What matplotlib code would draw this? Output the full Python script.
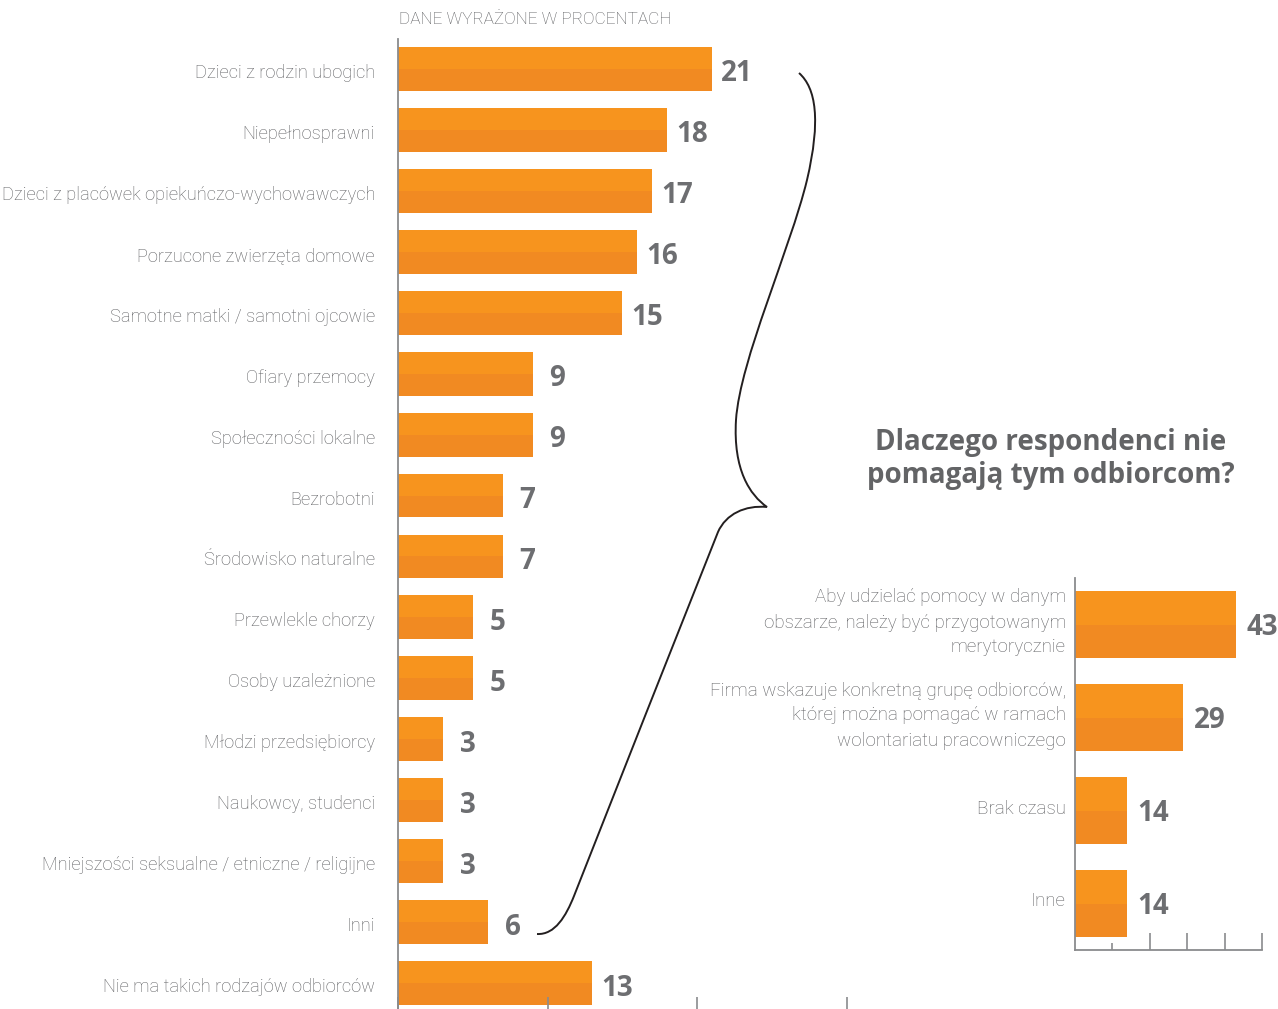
import matplotlib
matplotlib.use("Agg")
import matplotlib.pyplot as plt
from matplotlib.path import Path
from matplotlib.patches import PathPatch
from matplotlib.transforms import Affine2D

plt.rcParams['font.family'] = ['Roboto', 'DejaVu Sans']

# ---- data -------------------------------------------------------------
recipients = [
    "Dzieci z rodzin ubogich",
    "Niepełnosprawni",
    "Dzieci z placówek opiekuńczo-wychowawczych",
    "Porzucone zwierzęta domowe",
    "Samotne matki / samotni ojcowie",
    "Ofiary przemocy",
    "Społeczności lokalne",
    "Bezrobotni",
    "Środowisko naturalne",
    "Przewlekle chorzy",
    "Osoby uzależnione",
    "Młodzi przedsiębiorcy",
    "Naukowcy, studenci",
    "Mniejszości seksualne / etniczne / religijne",
    "Inni",
    "Nie ma takich rodzajów odbiorców",
]
recipient_pct = [21, 18, 17, 16, 15, 9, 9, 7, 7, 5, 5, 3, 3, 3, 6, 13]

reasons = [
    "Aby udzielać pomocy w danym\nobszarze, należy być przygotowanym\nmerytorycznie",
    "Firma wskazuje konkretną grupę odbiorców,\nktórej można pomagać w ramach\nwolontariatu pracowniczego",
    "Brak czasu",
    "Inne",
]
reason_pct = [43, 29, 14, 14]

left_ticks = [0, 10, 20, 30]
right_ticks = [20, 30, 40, 50]
right_short_ticks = [10]

units_note = "DANE WYRAŻONE W PROCENTACH"
side_title = "Dlaczego respondenci nie\npomagają tym odbiorcom?"

# ---- style ------------------------------------------------------------
ORANGE_TOP = "#F7941E"
ORANGE_BOT = "#F18A22"
LABEL_GRAY = "#5E5F62"
VALUE_GRAY = "#6D6E71"
AXIS_GRAY = "#8A8B8D"
LABEL_FONT = ['Roboto', 'DejaVu Sans']
BOLD_FONT = ['Open Sans', 'DejaVu Sans']

W, H = 1278, 1009
fig = plt.figure(figsize=(W / 100, H / 100), dpi=100)


def px_rect(x0, y_top, x1, y_bot):
    """Figure-fraction rectangle from pixel edges (y measured from top)."""
    return [x0 / W, (H - y_bot) / H, (x1 - x0) / W, (y_bot - y_top) / H]


def two_tone_barh(ax, values, height):
    pos = list(range(len(values)))
    ax.barh(pos, values, height=height, color=ORANGE_TOP, linewidth=0)
    ax.barh([p + height / 4 for p in pos], values, height=height / 2,
            color=ORANGE_BOT, linewidth=0)


def category_labels(ax, labels, pad_px, size, dy_px=0, linespacing=1.2):
    ax.set_yticks(range(len(labels)))
    ax.set_yticklabels([])
    ax.tick_params(axis="y", left=False)
    for i, lab in enumerate(labels):
        ax.annotate(lab, xy=(0, i), xytext=(-pad_px * 0.72, -dy_px * 0.72),
                    textcoords="offset points", ha="right", va="center",
                    multialignment="right", fontsize=size, color=LABEL_GRAY,
                    family=LABEL_FONT, fontweight="light",
                    linespacing=linespacing, annotation_clip=False)


def value_labels(ax, values, offset_px, size, dy_px=5):
    for i, v in enumerate(values):
        ax.annotate(str(v), xy=(v, i),
                    xytext=(offset_px * 0.72, -dy_px * 0.72),
                    textcoords="offset points", ha="center", va="center",
                    fontsize=size, fontweight="bold", color=VALUE_GRAY,
                    family=BOLD_FONT)


# ---- left chart: recipients ------------------------------------------
axL = fig.add_axes(px_rect(398, 38.5, 398 + 30 * 14.95, 1013.5))
two_tone_barh(axL, recipient_pct, 0.72)
axL.set_xlim(0, 30)
axL.set_ylim(len(recipients) - 0.5, -0.5)
category_labels(axL, recipients, 23, 13.15, dy_px=4)
axL.set_xticks(left_ticks)
axL.set_xticklabels([])
axL.tick_params(axis="x", direction="in", length=12, width=1.2,
                color=AXIS_GRAY)
for s in ("top", "right", "bottom"):
    axL.spines[s].set_visible(False)
axL.spines["left"].set_color(AXIS_GRAY)
axL.spines["left"].set_linewidth(1.3)
value_labels(axL, recipient_pct, 25, 20)

fig.text(399 / W, 1 - 20 / H, units_note, ha="left", va="center",
         fontsize=12.4, color=LABEL_GRAY, family=LABEL_FONT,
         fontweight="light")

# ---- right chart: reasons --------------------------------------------
axR = fig.add_axes(px_rect(1075, 578, 1075 + 50 * 3.74, 950))
two_tone_barh(axR, reason_pct, 0.72)
axR.set_xlim(0, 50)
axR.set_ylim(len(reasons) - 0.5, -0.5)
category_labels(axR, reasons, 9, 13.5, dy_px=-2, linespacing=1.5)
axR.set_xticks(right_ticks)
axR.set_xticks(right_short_ticks, minor=True)
axR.set_xticklabels([])
axR.tick_params(axis="x", which="major", direction="in", length=12,
                width=1.2, color=AXIS_GRAY)
axR.tick_params(axis="x", which="minor", direction="in", length=5,
                width=1.2, color=AXIS_GRAY)
axR.tick_params(axis="y", which="minor", left=False)
for s in ("top", "right"):
    axR.spines[s].set_visible(False)
for s in ("left", "bottom"):
    axR.spines[s].set_color(AXIS_GRAY)
    axR.spines[s].set_linewidth(1.3)
value_labels(axR, reason_pct, 26, 20, dy_px=3)

fig.text(1051 / W, 1 - 459 / H, side_title, ha="center", va="center",
         fontsize=20, fontweight="bold", color="#636466", linespacing=1.22,
         family=BOLD_FONT)

# ---- brace linking "Inni" down to the side question --------------------
verts = [
    (799, 73),
    (816, 88), (821, 120), (807, 180),
    (790, 250), (740, 360), (736, 420),
    (733, 470), (750, 495), (767, 507),
    (745, 505), (726, 514), (718, 532),
    (702, 572), (590, 855), (574, 896),
    (566, 916), (555, 935), (537, 934),
]
codes = [Path.MOVETO] + [Path.CURVE4] * (len(verts) - 1)
to_fig = Affine2D().scale(1 / W, -1 / H).translate(0, 1) + fig.transFigure
brace = PathPatch(Path(verts, codes), transform=to_fig, facecolor="none",
                  edgecolor="#231F20", linewidth=1.4)
fig.patches.append(brace)

fig.savefig("out.png", dpi=100, facecolor="white")
